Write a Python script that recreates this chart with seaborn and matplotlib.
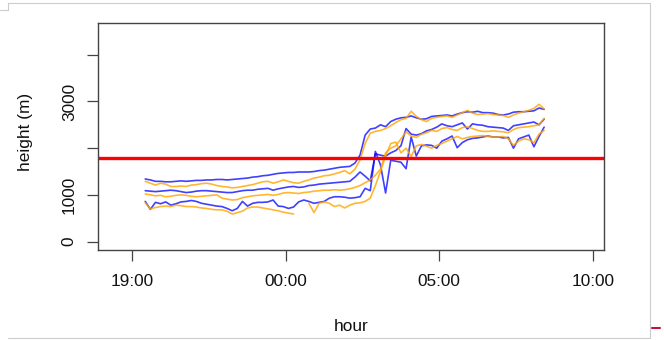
import numpy as np
import pandas as pd
import matplotlib.pyplot as plt
from matplotlib.lines import Line2D
import seaborn as sns

# 10-minute soundings through the night
times = pd.date_range('2015-06-01 19:25', periods=79, freq='10min')

blue_hi = [1340, 1320, 1290, 1290, 1280, 1280, 1290, 1300, 1290, 1300,
           1310, 1310, 1320, 1320, 1330, 1330, 1320, 1330, 1340, 1350,
           1360, 1380, 1390, 1410, 1420, 1440, 1460, 1470, 1480, 1480,
           1490, 1490, 1490, 1500, 1520, 1530, 1550, 1570, 1590, 1600,
           1610, 1680, 1850, 2280, 2410, 2430, 2500, 2460, 2570, 2620,
           2650, 2660, 2690, 2650, 2620, 2630, 2680, 2690, 2700, 2710,
           2690, 2730, 2760, 2780, 2770, 2790, 2760, 2760, 2750, 2720,
           2710, 2730, 2770, 2780, 2780, 2790, 2800, 2860, 2830]
orange_hi = [1290, 1250, 1210, 1250, 1230, 1180, 1180, 1190, 1180, 1210,
             1220, 1240, 1250, 1230, 1200, 1180, 1170, 1150, 1160, 1180,
             1200, 1220, 1250, 1280, 1290, 1250, 1280, 1320, 1290, 1260,
             1250, 1290, 1320, 1360, 1380, 1410, 1420, 1450, 1480, 1520,
             1450, 1550, 1750, 2100, 2320, 2360, 2380, 2420, 2480, 2550,
             2610, 2640, 2790, 2680, 2610, 2570, 2640, 2660, 2680, 2690,
             2660, 2710, 2760, 2810, 2750, 2720, 2730, 2740, 2720, 2710,
             2700, 2660, 2710, 2750, 2780, 2810, 2850, 2940, 2840]
blue_mid = [1090, 1080, 1070, 1080, 1090, 1100, 1090, 1070, 1050, 1060,
            1080, 1090, 1090, 1080, 1070, 1060, 1050, 1050, 1070, 1090,
            1100, 1100, 1120, 1130, 1140, 1100, 1130, 1150, 1170, 1180,
            1160, 1170, 1200, 1210, 1230, 1240, 1250, 1260, 1270, 1280,
            1290, 1380, 1490, 1400, 1300, 1880, 1850, 1830, 1900, 1950,
            2050, 2420, 2300, 2280, 2310, 2370, 2400, 2450, 2520, 2480,
            2460, 2500, 2540, 2410, 2520, 2500, 2490, 2460, 2450, 2440,
            2430, 2380, 2480, 2500, 2520, 2540, 2560, 2500, 2620]
orange_mid = [1020, 1000, 980, 990, 960, 970, 990, 1000, 990, 970,
              960, 970, 980, 990, 1000, 930, 910, 890, 900, 940,
              960, 980, 990, 1000, 1010, 990, 1010, 1040, 1050, 1040,
              1030, 1050, 1060, 1080, 1090, 1100, 1100, 1110, 1100, 1110,
              1130, 1160, 1200, 1260, 1320, 1420, 1550, 1900, 2000, 2050,
              2200, 2350, 2260, 2230, 2300, 2330, 2380, 2360, 2420, 2440,
              2400, 2380, 2440, 2460, 2420, 2380, 2360, 2360, 2370, 2360,
              2350, 2330, 2400, 2440, 2450, 2460, 2480, 2500, 2640]
blue_lo = [860, 690, 840, 810, 850, 780, 810, 850, 860, 880,
           860, 820, 800, 780, 760, 750, 710, 660, 710, 860,
           760, 820, 840, 840, 850, 890, 760, 750, 710, 740,
           850, 890, 860, 820, 840, 860, 930, 960, 960, 950,
           930, 940, 960, 1140, 1090, 1930, 1640, 1040, 1740, 1720,
           1700, 1560, 2240, 1830, 2050, 2070, 2060, 2000, 2150, 2200,
           2260, 2010, 2120, 2180, 2210, 2220, 2240, 2260, 2240, 2240,
           2220, 2230, 2000, 2200, 2240, 2280, 2030, 2250, 2450]
orange_lo = [830, 700, 730, 750, 760, 750, 780, 770, 750, 750,
             740, 720, 710, 690, 680, 680, 650, 590, 620, 650,
             720, 740, 740, 720, 700, 680, 660, 630, 610, 590,
             np.nan, np.nan, 820, 620, 820, 850, 820, 750, 780, 720,
             780, 820, 830, 860, 930, 1200, 1500, 1830, 2100, 2130,
             1900, 2000, 1820, 2050, 2080, 2040, 2000, 2060, 2100, 2150,
             2200, 2250, 2200, 2230, 2250, 2260, 2270, 2250, 2240, 2240,
             2250, 2200, 2060, 2150, 2200, 2180, 2120, 2300, 2380]

threshold = 1800
hour_ticks = ['2015-06-01 19:00', '2015-06-02 00:00', '2015-06-02 05:00', '2015-06-02 10:00']
hour_labels = ['19:00', '00:00', '05:00', '10:00']
height_ticks = [0, 1000, 2000, 3000, 4000]
height_labels = ['0', '1000', '', '3000', '']

series = {
    'blue_hi': blue_hi, 'blue_mid': blue_mid, 'blue_lo': blue_lo,
    'orange_hi': orange_hi, 'orange_mid': orange_mid, 'orange_lo': orange_lo,
}
df = pd.concat([pd.DataFrame({'time': times, 'height': v, 'line': k})
                for k, v in series.items()], ignore_index=True)
# split at missing values so gaps stay gaps
df['piece'] = df.groupby('line')['height'].transform(lambda s: s.isna().cumsum())
df = df.dropna()

sns.set_theme(style='white')
plt.rcParams['font.family'] = ['Liberation Sans', 'DejaVu Sans']

fig = plt.figure(figsize=(6.64, 3.40), dpi=100)
ax = fig.add_axes([0.1471, 0.2647, 0.7625, 0.6677])

for name in series:
    sub = df[df['line'] == name]
    col = 'blue' if name.startswith('blue') else 'orange'
    alpha = 0.75 if col == 'blue' else 0.8
    sns.lineplot(data=sub, x='time', y='height', units='piece', estimator=None,
                 color=col, alpha=alpha, linewidth=1.2, ax=ax)

ax.axhline(threshold, color='red', linewidth=2.4)

ax.set_xlim(pd.Timestamp('2015-06-01 17:52'), pd.Timestamp('2015-06-02 10:22'))
ax.set_ylim(-180, 4680)
ax.set_xticks(pd.to_datetime(hour_ticks))
ax.set_xticklabels(hour_labels)
ax.set_yticks(height_ticks)
ax.set_yticklabels(height_labels, rotation=90, va='center')
ax.tick_params(axis='both', direction='out', length=8, width=0.9, color='#444444',
               labelsize=12.4, labelcolor='#111111', left=True, bottom=True)
ax.tick_params(axis='x', pad=9)
ax.tick_params(axis='y', pad=7)
for s in ax.spines.values():
    s.set_color('#444444')
    s.set_linewidth(1.0)

ax.set_xlabel('hour', fontsize=12.4, color='#111111')
ax.set_ylabel('height (m)', fontsize=12.4, color='#111111')
ax.xaxis.set_label_coords(0.5, -0.335)
ax.xaxis.label.set_va('center')
ax.yaxis.set_label_coords(-0.143, 0.52)
ax.yaxis.label.set_va('center')

# light screenshot frame
frame = dict(color='#cccccc', linewidth=0.8, transform=fig.transFigure)
W, H = 664.0, 340.0
fig.add_artist(Line2D([8 / W, 650 / W], [1 - 3 / H, 1 - 3 / H], **frame))
fig.add_artist(Line2D([650 / W, 650 / W], [1 - 3 / H, 1 - 338 / H], **frame))
fig.add_artist(Line2D([8 / W, 650 / W], [1 - 338 / H, 1 - 338 / H], **frame))
fig.add_artist(Line2D([0, 8 / W, 8 / W], [1 - 10 / H, 1 - 10 / H, 1 - 3 / H], **frame))
fig.add_artist(Line2D([652 / W, 660 / W], [1 - 328 / H, 1 - 328 / H],
                      color='#c0143c', linewidth=1.5, transform=fig.transFigure))

fig.savefig('out.png', dpi=100)
